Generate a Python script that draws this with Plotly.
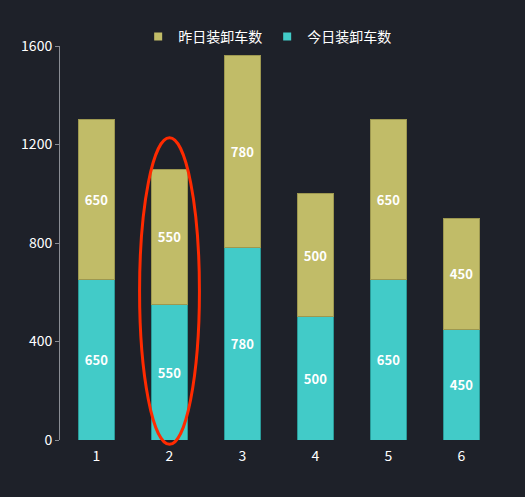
import plotly.graph_objects as go

categories = ["1", "2", "3", "4", "5", "6"]
today = [650, 550, 780, 500, 650, 450]
yesterday = [650, 550, 780, 500, 650, 450]
y_ticks = [0, 400, 800, 1200, 1600]

font = "Noto Sans CJK SC, Microsoft YaHei, sans-serif"
teal = "#42cbc8"
olive = "#c1bc68"

fig = go.Figure()
fig.add_trace(go.Bar(
    x=categories, y=today, name="今日装卸车数", showlegend=False,
    marker=dict(color=teal, line=dict(color="#2a9a98", width=1)),
    text=today, textposition="inside", insidetextanchor="middle",
    textfont=dict(color="white", size=13, family=font, weight="bold"),
))
fig.add_trace(go.Bar(
    x=categories, y=yesterday, name="昨日装卸车数", showlegend=False,
    marker=dict(color=olive, line=dict(color="#9d9850", width=1)),
    text=yesterday, textposition="inside", insidetextanchor="middle",
    textfont=dict(color="white", size=13, family=font, weight="bold"),
))

# legend entries with small square markers
for name, col in [("昨日装卸车数", olive), ("今日装卸车数", teal)]:
    fig.add_trace(go.Scatter(x=[None], y=[None], mode="markers", name=name,
                             marker=dict(symbol="square", size=8, color=col)))

# red ellipse highlighting the 2nd column (slightly overflows the axis)
fig.add_shape(type="circle", xref="x", yref="paper",
              x0=0.59, x1=1.41, y0=-0.011, y1=0.767,
              line=dict(color="#ff2a00", width=3))

fig.update_layout(
    width=525, height=497,
    barmode="stack", bargap=0.5,
    paper_bgcolor="#1e2129", plot_bgcolor="#1e2129",
    font=dict(family=font, color="white", size=14),
    margin=dict(l=60, r=27, t=46, b=57),
    showlegend=True,
    legend=dict(orientation="h", x=0.473, xanchor="center", y=1.023, yanchor="middle",
                traceorder="normal", itemwidth=30, font=dict(size=14, color="white"),
                bgcolor="rgba(0,0,0,0)"),
    xaxis=dict(showgrid=False, showline=False, zeroline=False, ticks="",
               ticklabelstandoff=6, tickfont=dict(size=14, color="white")),
    yaxis=dict(range=[0, 1600], tickvals=y_ticks, showgrid=False, zeroline=False,
               showline=True, linecolor="#8a8d94", linewidth=1,
               ticks="outside", ticklen=4, tickcolor="#8a8d94",
               tickfont=dict(size=14, color="white")),
)

fig.write_html("out.html", config={"displayModeBar": False}, post_script=(
    "document.body.style.margin='0';"
    "document.body.style.background='#1e2129';"
))
